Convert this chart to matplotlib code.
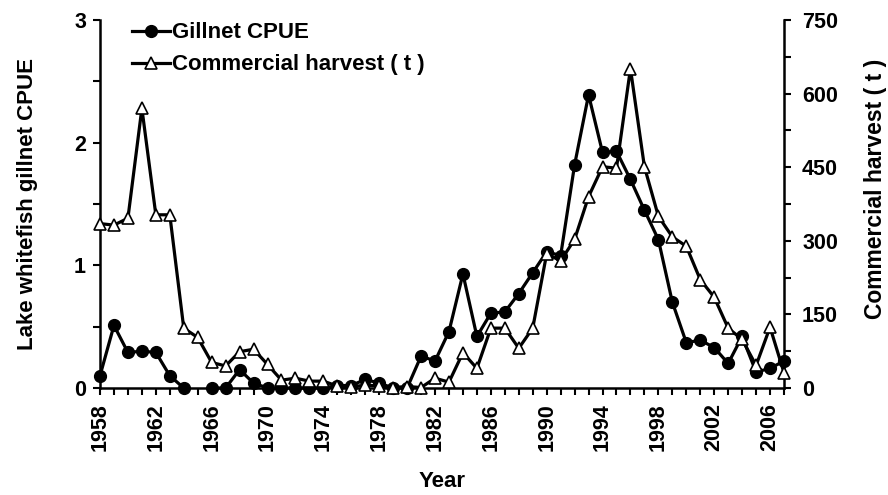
import numpy as np
import matplotlib
matplotlib.use("Agg")
import matplotlib.pyplot as plt
from matplotlib.ticker import MultipleLocator

plt.rcParams['font.family'] = ['Liberation Sans', 'DejaVu Sans']
plt.rcParams['font.weight'] = 'bold'

years = list(range(1958, 2008))
cpue = [0.10, 0.51, 0.29, 0.30, 0.29, 0.10, 0.00, np.nan, 0.00, 0.00,
        0.15, 0.04, 0.00, 0.00, 0.00, 0.00, 0.00, 0.02, 0.02, 0.07,
        0.04, 0.00, 0.00, 0.26, 0.22, 0.46, 0.93, 0.42, 0.61, 0.62,
        0.77, 0.94, 1.11, 1.08, 1.82, 2.39, 1.92, 1.93, 1.70, 1.45,
        1.21, 0.70, 0.37, 0.39, 0.33, 0.20, 0.42, 0.13, 0.16, 0.22]
harvest = [335, 332, 346, 570, 353, 353, 122, 103, 52, 45,
           74, 79, 48, 16, 20, 14, 14, 4, 2, 6,
           4, 1, 3, 1, 20, 12, 72, 40, 122, 122,
           81, 122, 274, 259, 303, 390, 451, 448, 651, 451,
           350, 308, 289, 221, 185, 122, 99, 46, 124, 31]
xtick_labels = list(range(1958, 2008, 4))

fig = plt.figure(figsize=(8.88, 4.95), dpi=100)
ax = fig.add_axes([100/888, 1-388/495, 684/888, 368/495])
ax2 = ax.twinx()

lw = 2.3
l1, = ax.plot(years, cpue, color='black', lw=lw, marker='o', markersize=8.5,
              markerfacecolor='black', markeredgecolor='black', clip_on=False, zorder=3)
l2, = ax2.plot(years, harvest, color='black', lw=lw, marker='^', markersize=8.5,
               markerfacecolor='white', markeredgecolor='black', markeredgewidth=1.2,
               clip_on=False, zorder=3)

ax.set_xlim(1958, 2007)
ax.set_ylim(0, 3)
ax2.set_ylim(0, 750)

ax.set_xticks(xtick_labels)
ax.set_xticklabels([str(y) for y in xtick_labels], rotation=90)
ax.xaxis.set_minor_locator(MultipleLocator(1))
ax.yaxis.set_major_locator(MultipleLocator(1))
ax.yaxis.set_minor_locator(MultipleLocator(0.5))
ax2.yaxis.set_major_locator(MultipleLocator(150))
ax2.yaxis.set_minor_locator(MultipleLocator(75))

for a in (ax, ax2):
    a.spines['top'].set_visible(False)
    for s in a.spines.values():
        s.set_linewidth(1.8)
    a.tick_params(which='both', direction='out', length=5, width=1.5, labelsize=15.5)
ax.tick_params(axis='y', pad=5)
ax.tick_params(axis='x', pad=6)
ax2.tick_params(axis='y', pad=8)
ax.spines['right'].set_visible(False)
ax2.spines['left'].set_visible(False)
ax2.spines['bottom'].set_visible(False)

ax.set_xlabel('Year', fontsize=16, fontweight='bold', labelpad=14)
ax.set_ylabel('Lake whitefish gillnet CPUE', fontsize=16, fontweight='bold', labelpad=26)
ax2.set_ylabel('Commercial harvest ( t )', fontsize=16.5, fontweight='bold')
ax2.yaxis.set_label_coords(1.117, 0.54)

leg = ax2.legend([l1, l2], ['Gillnet CPUE', 'Commercial harvest ( t )'],
                 loc='upper left', bbox_to_anchor=(0.031, 1.024), frameon=False,
                 borderpad=0, handlelength=1.7, handletextpad=0.1,
                 labelspacing=0.5, prop={'size': 16, 'weight': 'bold'})

fig.savefig('out.png', dpi=100)
